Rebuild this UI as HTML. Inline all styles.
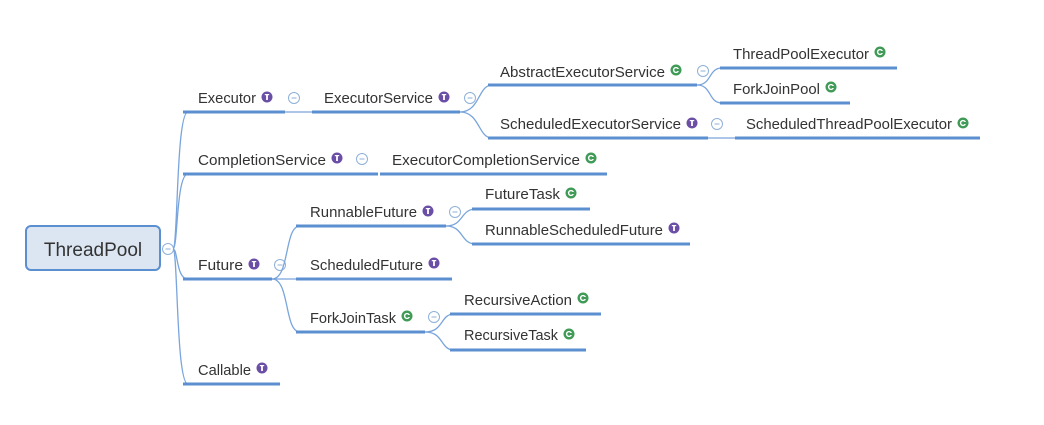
<!DOCTYPE html>
<html><head><meta charset="utf-8"><style>
html,body{margin:0;padding:0;background:#fff;}
svg text{font-family:"Liberation Sans",sans-serif;font-size:14.5px;fill:#333;}
.u{stroke:#5b8fd0;stroke-width:3;fill:none}
.c{stroke:#79a5dc;stroke-width:1.3;fill:none}
</style></head><body>
<svg width="1044" height="420" viewBox="0 0 1044 420" xmlns="http://www.w3.org/2000/svg">
<defs>
<g id="I"><circle r="5.5" fill="#6b4fa6"/><rect x="-0.9" y="-3" width="1.8" height="6" fill="#fff"/><rect x="-2.2" y="-3" width="4.4" height="1.2" fill="#fff"/></g>
<g id="C"><circle r="5.5" fill="#3f9a55"/><circle r="2.4" fill="none" stroke="#fff" stroke-width="1.4"/><rect x="1" y="-1" width="2" height="2" fill="#3f9a55"/></g>
<g id="M"><circle r="5.5" fill="#fff" stroke="#8fb0d8" stroke-width="1"/><line x1="-2.5" y1="0" x2="2.5" y2="0" stroke="#8fb0d8" stroke-width="1"/></g>
</defs>
<rect x="26" y="226" width="134" height="44" rx="5" fill="#dce6f2" stroke="#5b8fd0" stroke-width="2"/>
<text x="93" y="256" text-anchor="middle" style="font-size:19px;fill:#333">ThreadPool</text>
<use href="#M" x="168" y="249"/>
<path class="c" d="M173 249 C178 249 176 112 188 112"/>
<path class="c" d="M173 249 C178 249 176 174 188 174"/>
<path class="c" d="M173 249 C178 249 176 279 188 279"/>
<path class="c" d="M173 249 C178 249 176 384 188 384"/>

<line class="u" x1="183" y1="112" x2="285" y2="112"/><text x="198" y="103" textLength="58" lengthAdjust="spacingAndGlyphs">Executor</text><use href="#I" x="267" y="97"/><use href="#M" x="294" y="98"/>
<line class="c" x1="285" y1="112" x2="312" y2="112"/>
<line class="u" x1="312" y1="112" x2="460" y2="112"/><text x="324" y="103" textLength="109" lengthAdjust="spacingAndGlyphs">ExecutorService</text><use href="#I" x="444" y="97"/><use href="#M" x="470" y="98"/>
<path class="c" d="M460 112 C480 112 478 85 492 85"/>
<path class="c" d="M460 112 C480 112 478 138 492 138"/>
<line class="u" x1="488" y1="85" x2="697" y2="85"/><text x="500" y="77" textLength="165" lengthAdjust="spacingAndGlyphs">AbstractExecutorService</text><use href="#C" x="676" y="70"/><use href="#M" x="703" y="71"/>
<path class="c" d="M697 85 C712 85 708 68 722 68"/>
<path class="c" d="M697 85 C712 85 708 103 722 103"/>
<line class="u" x1="720" y1="68" x2="897" y2="68"/><text x="733" y="59" textLength="136" lengthAdjust="spacingAndGlyphs">ThreadPoolExecutor</text><use href="#C" x="880" y="52"/>
<line class="u" x1="720" y1="103" x2="850" y2="103"/><text x="733" y="94" textLength="87" lengthAdjust="spacingAndGlyphs">ForkJoinPool</text><use href="#C" x="831" y="87"/>
<line class="u" x1="488" y1="138" x2="708" y2="138"/><text x="500" y="129" textLength="181" lengthAdjust="spacingAndGlyphs">ScheduledExecutorService</text><use href="#I" x="692" y="123"/><use href="#M" x="717" y="124"/>
<line class="c" x1="708" y1="138" x2="735" y2="138"/>
<line class="u" x1="735" y1="138" x2="980" y2="138"/><text x="746" y="129" textLength="206" lengthAdjust="spacingAndGlyphs">ScheduledThreadPoolExecutor</text><use href="#C" x="963" y="123"/>

<line class="u" x1="183" y1="174" x2="378" y2="174"/><text x="198" y="165" textLength="128" lengthAdjust="spacingAndGlyphs">CompletionService</text><use href="#I" x="337" y="158"/><use href="#M" x="362" y="159"/>
<line class="u" x1="380" y1="174" x2="607" y2="174"/><text x="392" y="165" textLength="188" lengthAdjust="spacingAndGlyphs">ExecutorCompletionService</text><use href="#C" x="591" y="158"/>

<line class="u" x1="183" y1="279" x2="272" y2="279"/><text x="198" y="270" textLength="45" lengthAdjust="spacingAndGlyphs">Future</text><use href="#I" x="254" y="264"/><use href="#M" x="280" y="265"/>
<path class="c" d="M272 279 C290 279 284 226 300 226"/>
<line class="c" x1="272" y1="279" x2="298" y2="279"/>
<path class="c" d="M272 279 C290 279 284 332 300 332"/>
<line class="u" x1="296" y1="226" x2="446" y2="226"/><text x="310" y="217" textLength="107" lengthAdjust="spacingAndGlyphs">RunnableFuture</text><use href="#I" x="428" y="211"/><use href="#M" x="455" y="212"/>
<path class="c" d="M446 226 C464 226 460 209 476 209"/>
<path class="c" d="M446 226 C464 226 460 244 476 244"/>
<line class="u" x1="472" y1="209" x2="590" y2="209"/><text x="485" y="199" textLength="75" lengthAdjust="spacingAndGlyphs">FutureTask</text><use href="#C" x="571" y="193"/>
<line class="u" x1="472" y1="244" x2="690" y2="244"/><text x="485" y="235" textLength="178" lengthAdjust="spacingAndGlyphs">RunnableScheduledFuture</text><use href="#I" x="674" y="228"/>
<line class="u" x1="296" y1="279" x2="452" y2="279"/><text x="310" y="270" textLength="113" lengthAdjust="spacingAndGlyphs">ScheduledFuture</text><use href="#I" x="434" y="263"/>
<line class="u" x1="296" y1="332" x2="425" y2="332"/><text x="310" y="323" textLength="86" lengthAdjust="spacingAndGlyphs">ForkJoinTask</text><use href="#C" x="407" y="316"/><use href="#M" x="434" y="317"/>
<path class="c" d="M425 332 C444 332 440 314 454 314"/>
<path class="c" d="M425 332 C444 332 440 350 454 350"/>
<line class="u" x1="450" y1="314" x2="601" y2="314"/><text x="464" y="305" textLength="108" lengthAdjust="spacingAndGlyphs">RecursiveAction</text><use href="#C" x="583" y="298"/>
<line class="u" x1="450" y1="350" x2="586" y2="350"/><text x="464" y="340" textLength="94" lengthAdjust="spacingAndGlyphs">RecursiveTask</text><use href="#C" x="569" y="334"/>

<line class="u" x1="183" y1="384" x2="280" y2="384"/><text x="198" y="375" textLength="53" lengthAdjust="spacingAndGlyphs">Callable</text><use href="#I" x="262" y="368"/>
</svg>
</body></html>
